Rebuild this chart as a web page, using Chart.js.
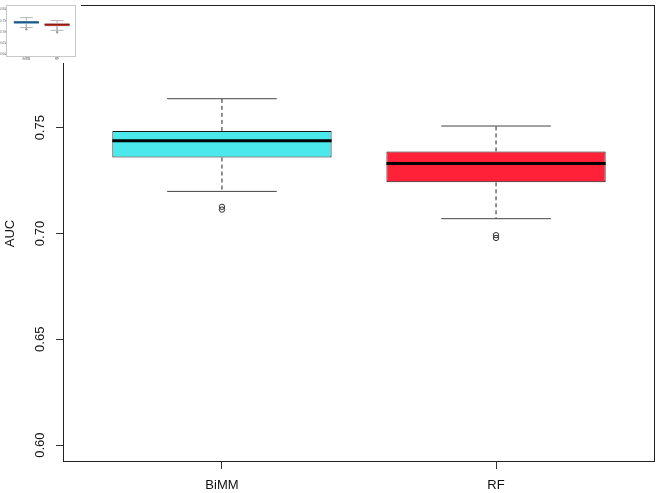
<!DOCTYPE html>
<html><head><meta charset="utf-8">
<script src="https://cdn.jsdelivr.net/npm/chart.js@4.4.1/dist/chart.umd.min.js"></script>
<style>
html,body{margin:0;padding:0;background:#fff;}
#wrap{position:relative;width:660px;height:493px;overflow:hidden;}
#main{position:absolute;left:0;top:0;}
#inset{position:absolute;left:0;top:0;background:#fff;}
</style></head><body>
<div id="wrap">
<canvas id="main" width="660" height="493"></canvas>
<canvas id="inset" width="81" height="63"></canvas>
</div>
<script>
// ---- data ----
const categories = ['BiMM', 'RF'];
const whiskerHigh = [0.7637, 0.7508];
const q3 = [0.7485, 0.7388];
const median = [0.7438, 0.7331];
const q1 = [0.7359, 0.7242];
const whiskerLow = [0.7199, 0.7070];
const outliers = [[0.7113, 0.7126], [0.6979, 0.6992]];
const yTickValues = [0.60, 0.65, 0.70, 0.75];
const yTickLabels = ['0.60', '0.65', '0.70', '0.75'];
const yAxisTitle = 'AUC';
const insetTickValues = [0.60, 0.65, 0.70, 0.75, 0.80];
const insetTickLabels = ['0.60', '0.65', '0.70', '0.75', '0.80'];

function boxDatasets(cfg) {
  const ds = [];
  categories.forEach((c, i) => {
    const x = i + 1;
    const hw = cfg.boxWidth / 2, cw = cfg.capWidth / 2;
    ds.push({type: 'line', order: 5, data: [{x, y: q3[i]}, {x, y: whiskerHigh[i]}],
      borderColor: cfg.whiskerColor, borderWidth: 1, borderDash: cfg.dash, pointRadius: 0, fill: false});
    ds.push({type: 'line', order: 5, data: [{x, y: q1[i]}, {x, y: whiskerLow[i]}],
      borderColor: cfg.whiskerColor, borderWidth: 1, borderDash: cfg.dash, pointRadius: 0, fill: false});
    if (cfg.capWidth > 0) {
      ds.push({type: 'line', order: 3, data: [{x: x - cw, y: whiskerHigh[i]}, {x: x + cw, y: whiskerHigh[i]}],
        borderColor: cfg.capColor, borderWidth: 1, pointRadius: 0, fill: false});
      ds.push({type: 'line', order: 3, data: [{x: x - cw, y: whiskerLow[i]}, {x: x + cw, y: whiskerLow[i]}],
        borderColor: cfg.capColor, borderWidth: 1, pointRadius: 0, fill: false});
    }
    ds.push({type: 'line', order: 2, data: [{x: x - hw, y: median[i]}, {x: x + hw, y: median[i]}],
      borderColor: cfg.medianColor[i], borderWidth: cfg.medianWidth, pointRadius: 0, fill: false, borderCapStyle: 'butt'});
  });
  ds.push({type: 'bar', order: 4,
    data: categories.map((c, i) => ({x: i + 1, y: [q1[i], q3[i]]})),
    backgroundColor: cfg.fill, borderColor: cfg.boxBorder, borderWidth: cfg.boxBorderWidth,
    borderSkipped: false, barPercentage: cfg.boxWidth, categoryPercentage: 1});
  ds.push({type: 'scatter', order: 1,
    data: outliers.flatMap((arr, i) => arr.map(v => ({x: i + 1, y: v}))),
    pointRadius: cfg.outR, pointBackgroundColor: cfg.outFill, pointBorderColor: cfg.outColor,
    pointBorderWidth: 1, showLine: false});
  return ds;
}

const mainDecor = {
  id: 'mainDecor',
  afterDraw(chart) {
    const {ctx, chartArea: a, scales: {x, y}} = chart;
    ctx.save();
    ctx.strokeStyle = '#222'; ctx.lineWidth = 1;
    ctx.strokeRect(a.left + 0.5, a.top + 0.5, a.right - a.left - 1, a.bottom - a.top - 1);
    ctx.fillStyle = '#111';
    ctx.font = '13px "Liberation Sans", Arial, sans-serif';
    ctx.textAlign = 'center'; ctx.textBaseline = 'middle';
    yTickValues.forEach((v, i) => {
      const py = y.getPixelForValue(v);
      ctx.save(); ctx.translate(40, py); ctx.rotate(-Math.PI / 2);
      ctx.fillText(yTickLabels[i], 0, 0); ctx.restore();
    });
    categories.forEach((c, i) => {
      ctx.fillText(c, x.getPixelForValue(i + 1), 485);
    });
    ctx.save(); ctx.translate(10, (a.top + a.bottom) / 2); ctx.rotate(-Math.PI / 2);
    ctx.fillText(yAxisTitle, 0, 0); ctx.restore();
    ctx.restore();
  }
};

new Chart(document.getElementById('main'), {
  type: 'scatter',
  data: {datasets: boxDatasets({
    boxWidth: 0.8, capWidth: 0.4, whiskerColor: '#222', capColor: '#444', dash: [4, 3],
    medianColor: ['#000', '#000'], medianWidth: 3,
    fill: ['#4CE9EC', '#FF2138'], boxBorder: '#1a1a1a', boxBorderWidth: 1,
    outR: 2.7, outFill: 'rgba(0,0,0,0)', outColor: '#333'
  })},
  options: {
    responsive: false, animation: false, events: [],
    layout: {padding: {left: 0, right: 3, top: 2, bottom: 0}},
    plugins: {legend: {display: false}, tooltip: {enabled: false}},
    scales: {
      x: {type: 'linear', min: 0.42, max: 2.58, offset: false,
        afterBuildTicks: s => { s.ticks = categories.map((c, i) => ({value: i + 1})); },
        ticks: {display: false},
        grid: {display: true, drawOnChartArea: false, drawTicks: true, tickLength: 7, color: '#333', offset: false},
        border: {display: false},
        afterFit: s => { s.height = 31; }},
      y: {type: 'linear', min: 0.592, max: 0.808,
        afterBuildTicks: s => { s.ticks = yTickValues.map(v => ({value: v})); },
        ticks: {display: false},
        grid: {display: true, drawOnChartArea: false, drawTicks: true, tickLength: 7, color: '#333'},
        border: {display: false},
        afterFit: s => { s.width = 63; }}
    }
  },
  plugins: [mainDecor]
});

const insetDecor = {
  id: 'insetDecor',
  afterDraw(chart) {
    const {ctx, chartArea: a, scales: {x, y}} = chart;
    ctx.save();
    ctx.strokeStyle = '#c8c8c8'; ctx.lineWidth = 1;
    ctx.strokeRect(a.left + 0.5, a.top + 0.5, a.right - a.left - 1, a.bottom - a.top - 1);
    ctx.fillStyle = '#666';
    ctx.font = '3px "Liberation Sans", Arial, sans-serif';
    ctx.textAlign = 'center'; ctx.textBaseline = 'middle';
    insetTickValues.forEach((v, i) => {
      ctx.fillText(insetTickLabels[i], 3, y.getPixelForValue(v));
    });
    categories.forEach((c, i) => {
      ctx.fillText(c, x.getPixelForValue(i + 1), 59.5);
    });
    ctx.restore();
  }
};

new Chart(document.getElementById('inset'), {
  type: 'scatter',
  data: {datasets: boxDatasets({
    boxWidth: 0.82, capWidth: 0.42, whiskerColor: '#b5b5b5', capColor: '#b5b5b5', dash: [],
    medianColor: ['#1d4f7a', '#8a1e17'], medianWidth: 1.5,
    fill: ['#3d8fc9', '#d8453a'], boxBorder: '#9aa', boxBorderWidth: 0.5,
    outR: 0.7, outFill: '#999', outColor: '#999'
  })},
  options: {
    responsive: false, animation: false, events: [],
    layout: {padding: {left: 0, right: 1, top: 0, bottom: 0}},
    plugins: {legend: {display: false}, tooltip: {enabled: false}},
    scales: {
      x: {type: 'linear', min: 0.338, max: 2.615, offset: false,
        afterBuildTicks: s => { s.ticks = categories.map((c, i) => ({value: i + 1})); },
        ticks: {display: false},
        grid: {display: true, drawOnChartArea: false, drawTicks: true, tickLength: 1, color: '#bbb', offset: false},
        border: {display: false},
        afterFit: s => { s.height = 6; }},
      y: {type: 'linear', min: 0.5878, max: 0.8204,
        afterBuildTicks: s => { s.ticks = insetTickValues.map(v => ({value: v})); },
        ticks: {display: false},
        grid: {display: true, drawOnChartArea: false, drawTicks: true, tickLength: 1, color: '#bbb'},
        border: {display: false},
        afterFit: s => { s.width = 6; }}
    }
  },
  plugins: [insetDecor]
});
</script>
</body></html>
